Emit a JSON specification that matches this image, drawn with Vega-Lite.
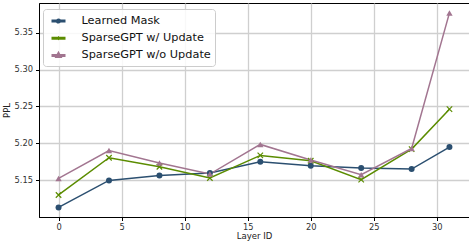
{
  "$schema": "https://vega.github.io/schema/vega-lite/v6.json",
  "width": 430,
  "height": 214,
  "autosize": "none",
  "padding": {"left": 39, "top": 3, "right": 0, "bottom": 24},
  "config": {
    "font": "DejaVu Sans",
    "view": {"stroke": "black", "strokeWidth": 1}
  },
  "data": {
    "values": [
      {"layer": 0, "series": "Learned Mask", "ppl": 5.1135},
      {"layer": 4, "series": "Learned Mask", "ppl": 5.150},
      {"layer": 8, "series": "Learned Mask", "ppl": 5.1568},
      {"layer": 12, "series": "Learned Mask", "ppl": 5.160},
      {"layer": 16, "series": "Learned Mask", "ppl": 5.1753},
      {"layer": 20, "series": "Learned Mask", "ppl": 5.1699},
      {"layer": 24, "series": "Learned Mask", "ppl": 5.1668},
      {"layer": 28, "series": "Learned Mask", "ppl": 5.1654},
      {"layer": 31, "series": "Learned Mask", "ppl": 5.1951},
      {"layer": 0, "series": "SparseGPT w/ Update", "ppl": 5.1303},
      {"layer": 4, "series": "SparseGPT w/ Update", "ppl": 5.1807},
      {"layer": 8, "series": "SparseGPT w/ Update", "ppl": 5.1685},
      {"layer": 12, "series": "SparseGPT w/ Update", "ppl": 5.1532},
      {"layer": 16, "series": "SparseGPT w/ Update", "ppl": 5.1838},
      {"layer": 20, "series": "SparseGPT w/ Update", "ppl": 5.1766},
      {"layer": 24, "series": "SparseGPT w/ Update", "ppl": 5.151},
      {"layer": 28, "series": "SparseGPT w/ Update", "ppl": 5.1924},
      {"layer": 31, "series": "SparseGPT w/ Update", "ppl": 5.2464},
      {"layer": 0, "series": "SparseGPT w/o Update", "ppl": 5.1527},
      {"layer": 4, "series": "SparseGPT w/o Update", "ppl": 5.1905},
      {"layer": 8, "series": "SparseGPT w/o Update", "ppl": 5.1735},
      {"layer": 12, "series": "SparseGPT w/o Update", "ppl": 5.1586},
      {"layer": 16, "series": "SparseGPT w/o Update", "ppl": 5.1987},
      {"layer": 20, "series": "SparseGPT w/o Update", "ppl": 5.1776},
      {"layer": 24, "series": "SparseGPT w/o Update", "ppl": 5.1577},
      {"layer": 28, "series": "SparseGPT w/o Update", "ppl": 5.1932},
      {"layer": 31, "series": "SparseGPT w/o Update", "ppl": 5.3766}
    ]
  },
  "encoding": {
    "x": {
      "field": "layer", "type": "quantitative",
      "scale": {"domain": [-1.55, 32.55], "nice": false, "zero": false},
      "axis": {
        "title": "Layer ID", "values": [0, 5, 10, 15, 20, 25, 30],
        "titleFontSize": 8.5, "titleFontWeight": "normal", "titleColor": "#222", "titlePadding": 1,
        "labelFontSize": 8.3, "labelColor": "#333", "labelPadding": 2,
        "domainColor": "black", "domainWidth": 1,
        "tickColor": "black", "tickSize": 3.5,
        "grid": true, "gridColor": "#cfcfcf", "gridWidth": 1.3
      }
    },
    "y": {
      "field": "ppl", "type": "quantitative",
      "scale": {"domain": [5.1005, 5.390], "nice": false, "zero": false},
      "axis": {
        "title": "PPL", "values": [5.15, 5.2, 5.25, 5.3, 5.35], "format": ".2f",
        "titleFontSize": 8.5, "titleFontWeight": "normal", "titleColor": "#222", "titlePadding": 3,
        "labelFontSize": 8.3, "labelColor": "#333", "labelPadding": 3,
        "domainColor": "black", "domainWidth": 1,
        "tickColor": "black", "tickSize": 3.5,
        "grid": true, "gridColor": "#cfcfcf", "gridWidth": 1.3
      }
    }
  },
  "layer": [
    {
      "mark": {"type": "line", "strokeWidth": 1.5},
      "encoding": {
        "color": {
          "field": "series", "type": "nominal",
          "scale": {"domain": ["Learned Mask", "SparseGPT w/ Update", "SparseGPT w/o Update"], "range": ["#2b4f70", "#5b8c00", "#a27590"]},
          "legend": {
            "title": null, "orient": "none", "legendX": 4, "legendY": 6,
            "labelFontSize": 11.3, "labelColor": "#111", "labelLimit": 300,
            "symbolSize": 196, "symbolStrokeWidth": 3, "rowPadding": 1.2, "labelOffset": 18,
            "padding": 3.5, "cornerRadius": 3, "strokeColor": "#cccccc", "fillColor": "rgba(255,255,255,0.85)",
            "symbolType": "M-0.5,0H1.5",
            "encode": {
              "symbols": {
                "update": {
                  "shape": {"signal": "datum.value === 'Learned Mask' ? 'M-0.5,0H1.5M0.34,0A0.16,0.16 0 1 1 0.66,0A0.16,0.16 0 1 1 0.34,0' : datum.value === 'SparseGPT w/ Update' ? 'M-0.5,0H1.5M0.36,-0.14L0.64,0.14M0.36,0.14L0.64,-0.14' : 'M-0.5,0H1.5M0.5,-0.22L0.7,0.14L0.3,0.14Z'"},
                  "fill": {"signal": "scale('color', datum.value)"},
                  "stroke": {"signal": "scale('color', datum.value)"},
                  "strokeWidth": {"value": 3},
                  "opacity": {"value": 1}
                }
              }
            }
          }
        }
      }
    },
    {
      "transform": [{"filter": "datum.series === 'Learned Mask'"}],
      "mark": {"type": "point", "filled": true, "shape": "circle", "size": 36, "color": "#2b4f70", "opacity": 1}
    },
    {
      "transform": [{"filter": "datum.series === 'SparseGPT w/ Update'"}],
      "mark": {"type": "point", "filled": false, "shape": "M-1,-1L1,1M-1,1L1,-1", "size": 30, "color": "#5b8c00", "strokeWidth": 1.2, "opacity": 1}
    },
    {
      "transform": [{"filter": "datum.series === 'SparseGPT w/o Update'"}],
      "mark": {"type": "point", "filled": true, "shape": "triangle-up", "size": 40, "color": "#a27590", "opacity": 1}
    }
  ]
}
